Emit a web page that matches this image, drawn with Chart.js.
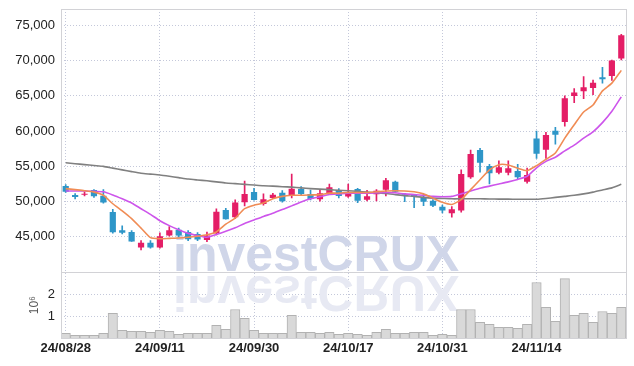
<!DOCTYPE html>
<html>
<head>
<meta charset="utf-8">
<script src="https://cdn.jsdelivr.net/npm/chart.js@4.4.1/dist/chart.umd.min.js"></script>
<style>
  html, body { margin: 0; padding: 0; background: #fff; }
  #wrap { width: 634px; height: 366px; }
</style>
</head>
<body>
<div id="wrap"><canvas id="stockChart" width="634" height="366"></canvas></div>
<script>
// trading days
var dates = [
    '24/08/28','24/08/29','24/08/30','24/09/02','24/09/03','24/09/04','24/09/05','24/09/06','24/09/09','24/09/10',
    '24/09/11','24/09/12','24/09/13','24/09/19','24/09/20','24/09/23','24/09/24','24/09/25','24/09/26','24/09/27',
    '24/09/30','24/10/02','24/10/04','24/10/07','24/10/08','24/10/10','24/10/11','24/10/14','24/10/15','24/10/16',
    '24/10/17','24/10/18','24/10/21','24/10/22','24/10/23','24/10/24','24/10/25','24/10/28','24/10/29','24/10/30',
    '24/10/31','24/11/01','24/11/04','24/11/05','24/11/06','24/11/07','24/11/08','24/11/11','24/11/12','24/11/13',
    '24/11/14','24/11/15','24/11/18','24/11/19','24/11/20','24/11/21','24/11/22','24/11/25','24/11/26','24/11/27'
];

var opens = [
    52200, 50940, 50990, 51650, 50850, 48540, 45950, 45700, 43490, 44160,
    43490, 45190, 46000, 45710, 45430, 44580, 45530, 48830, 47790, 49920,
    51370, 49670, 50520, 51270, 50810, 51800, 51090, 50340, 51190, 51660,
    50740, 51800, 50280, 51050, 51700, 52830, 51050, 50950, 50620, 50140,
    49290, 48360, 48730, 53450, 57310, 55050, 54100, 54100, 54340, 52830,
    58960, 57360, 60050, 61270, 64980, 65640, 66110, 67630, 67820, 70290
];
var highs = [
    52400, 51130, 51410, 51700, 51700, 48920, 46560, 45900, 44480, 44480,
    45570, 46460, 46240, 45900, 45620, 45670, 48970, 49060, 50240, 52930,
    51890, 51090, 51180, 51550, 53920, 52130, 51650, 51650, 52500, 51850,
    52500, 51900, 51610, 51700, 53310, 52900, 51190, 51050, 51050, 50280,
    49500, 49290, 54490, 57310, 57560, 55290, 55800, 55800, 55290, 54770,
    60000, 59820, 60520, 64980, 66020, 67720, 67230, 69050, 70060, 73700
];
var lows = [
    51300, 50380, 50800, 50600, 49800, 45530, 45440, 44350, 43170, 43400,
    43400, 45100, 45000, 44480, 44480, 44340, 45300, 47500, 47600, 49390,
    50200, 49490, 50430, 49920, 50520, 50990, 50240, 50050, 50990, 50530,
    50600, 49860, 50100, 50100, 50800, 51300, 50000, 49150, 49430, 49300,
    48400, 47790, 48500, 53300, 54160, 52500, 53920, 53780, 53170, 52600,
    56140, 56140, 58160, 60700, 64040, 64600, 65170, 66800, 67170, 70100
];
var closes = [
    51400, 50660, 51130, 50760, 49860, 45670, 45590, 44350, 44160, 43490,
    45100, 45950, 45190, 44680, 44620, 45190, 48580, 47510, 49860, 51090,
    50240, 50340, 50990, 50060, 51840, 51090, 50380, 51190, 52040, 50810,
    51300, 50140, 50760, 51560, 53030, 51410, 50810, 50710, 50000, 49430,
    48730, 48920, 53920, 56750, 55520, 54020, 54870, 54730, 53450, 53780,
    56790, 59440, 59490, 64660, 65450, 66210, 66860, 67350, 70000, 73580
];
var volumes = [
    210000, 120000, 120000, 120000, 210000, 1120000, 350000, 300000, 300000, 260000,
    350000, 300000, 170000, 210000, 210000, 210000, 580000, 400000, 1300000, 900000,
    350000, 210000, 210000, 210000, 1030000, 260000, 260000, 210000, 260000, 170000,
    210000, 170000, 120000, 260000, 400000, 210000, 210000, 260000, 260000, 120000,
    170000, 120000, 1300000, 1300000, 710000, 620000, 490000, 490000, 440000, 620000,
    2530000, 1400000, 760000, 2710000, 1030000, 1120000, 710000, 1210000, 1120000, 1400000
];

// moving averages
var maShort = [
    51850, 51700, 51550, 51350, 50900, 49700, 48700, 47600, 46250, 44900,
    44750, 44800, 44850, 44950, 45100, 45300, 45700, 46800, 47650, 49000,
    49500, 49800, 50400, 50750, 50900, 50900, 50950, 51000, 51200, 51200,
    51300, 51300, 51300, 51400, 51500, 51550, 51500, 51400, 51100, 50500,
    49900, 49600, 50300, 51700, 53100, 54500, 55240, 55190, 54730, 54390,
    55100, 56000, 56900, 59000, 60900, 62700, 63700, 65700, 66800, 68600
];
var maMid = [
    51500, 51500, 51500, 51450, 51400, 50950, 50400, 49800, 49000, 48200,
    47300, 46600, 46000, 45500, 45200, 44950, 45350, 45800, 46300, 46900,
    47400, 47900, 48350, 48900, 49400, 49950, 50400, 50700, 51000, 51100,
    51200, 51200, 51200, 51250, 51300, 51250, 51100, 51000, 50900, 50750,
    50700, 50750, 51100, 51500, 51900, 52200, 52500, 52800, 53150, 53600,
    54800, 55700, 56300, 57200, 58000, 59000, 59900, 61200, 62800, 64850
];
var maLong = [
    55500, 55380, 55250, 55120, 55000, 54750, 54500, 54250, 54020, 53900,
    53780, 53600, 53400, 53200, 53070, 52950, 52800, 52650, 52550, 52450,
    52350, 52250, 52200, 52120, 52050, 51950, 51850, 51780, 51700, 51620,
    51550, 51450, 51350, 51250, 51150, 51000, 50850, 50750, 50600, 50500,
    50450, 50400, 50400, 50400, 50400, 50380, 50350, 50350, 50340, 50330,
    50340, 50450, 50600, 50750, 50900, 51100, 51350, 51650, 51950, 52450
];

// tick values
var priceTicks = [45000, 50000, 55000, 60000, 65000, 70000, 75000];
var volumeTicks = [1000000, 2000000];

var upColor = 'rgb(228, 30, 102)';
var downColor = 'rgb(46, 150, 200)';
var gridColor = 'rgb(196, 200, 218)';

var candleColors = opens.map(function (o, i) { return closes[i] >= o ? upColor : downColor; });
var bodies = opens.map(function (o, i) { return [o, closes[i]]; });
var wicks = lows.map(function (l, i) { return [l, highs[i]]; });

Chart.defaults.font.family = "'Liberation Sans', Arial, sans-serif";

// watermark with its reflection, drawn behind the candles
var watermarkPlugin = {
    id: 'watermark',
    beforeDatasetsDraw: function (chart) {
        var ctx = chart.ctx;
        var base = chart.scales.y.bottom - 1;
        ctx.save();
        ctx.font = "bold 50px 'Liberation Sans', Arial, sans-serif";
        ctx.textBaseline = 'alphabetic';
        ctx.fillStyle = 'rgb(208, 214, 233)';
        ctx.fillText('investCRUX', 173, base);
        ctx.translate(0, 2 * base + 5);
        ctx.scale(1, -1);
        ctx.fillStyle = 'rgb(231, 233, 243)';
        ctx.fillText('investCRUX', 173, base);
        ctx.restore();
    }
};

// frame round the plot and the line between price and volume
var framePlugin = {
    id: 'frame',
    afterDraw: function (chart) {
        var ctx = chart.ctx;
        var a = chart.chartArea;
        var sep = Math.round(chart.scales.y.bottom) + 0.5;
        ctx.save();
        ctx.strokeStyle = 'rgb(210, 210, 214)';
        ctx.lineWidth = 1;
        ctx.strokeRect(Math.round(a.left) + 0.5, Math.round(a.top) + 0.5, Math.round(a.right - a.left), Math.round(a.bottom - a.top));
        ctx.beginPath();
        ctx.moveTo(a.left, sep);
        ctx.lineTo(a.right, sep);
        ctx.stroke();
        ctx.restore();
    }
};

function fixAxis(scale) {
    scale.width = 61;
    scale.paddingTop = 0;
    scale.paddingBottom = 0;
}

var ctx = document.getElementById('stockChart').getContext('2d');
var stockChart = new Chart(ctx, {
    data: {
        labels: dates,
        datasets: [
            {
                type: 'line', label: 'MA short', data: maShort, yAxisID: 'y', order: 0,
                borderColor: 'rgb(240, 140, 85)', borderWidth: 1.6, pointRadius: 0, tension: 0.2
            },
            {
                type: 'line', label: 'MA mid', data: maMid, yAxisID: 'y', order: 0,
                borderColor: 'rgb(205, 85, 235)', borderWidth: 1.6, pointRadius: 0, tension: 0.2
            },
            {
                type: 'line', label: 'MA long', data: maLong, yAxisID: 'y', order: 0,
                borderColor: 'rgb(128, 128, 128)', borderWidth: 1.6, pointRadius: 0, tension: 0.2
            },
            {
                type: 'bar', label: 'wick', data: wicks, yAxisID: 'y', order: 1,
                backgroundColor: candleColors, barThickness: 1, grouped: false
            },
            {
                type: 'bar', label: 'body', data: bodies, yAxisID: 'y', order: 1,
                backgroundColor: candleColors, borderWidth: 0,
                barPercentage: 0.66, categoryPercentage: 1, grouped: false
            },
            {
                type: 'bar', label: 'volume', data: volumes, yAxisID: 'yv', order: 2,
                backgroundColor: 'rgb(217, 217, 217)', borderColor: 'rgb(178, 178, 178)', borderWidth: 1,
                barPercentage: 1, categoryPercentage: 1, grouped: false
            }
        ]
    },
    options: {
        responsive: false,
        animation: false,
        layout: { padding: { top: 9, right: 8, left: 0, bottom: 0 } },
        plugins: {
            legend: { display: false },
            tooltip: { enabled: false }
        },
        scales: {
            x: {
                offset: true,
                grid: { offset: false, color: gridColor, drawTicks: false },
                border: { display: false, dash: [1, 2] },
                ticks: {
                    autoSkip: false, maxRotation: 0, padding: 3,
                    color: '#222', font: { size: 13, weight: 'bold' },
                    callback: function (v, i) { return i % 10 === 0 ? dates[i] : null; }
                },
                afterFit: function (scale) { scale.height = 28; }
            },
            yv: {
                position: 'left', stack: 'panes', stackWeight: 1,
                min: 0, max: 3000000,
                grid: { color: gridColor, drawTicks: false },
                border: { display: false, dash: [1, 2] },
                title: { display: true, text: '10\u2076', color: '#555', font: { size: 12 }, padding: { top: 27, bottom: 0 } },
                ticks: {
                    autoSkip: false, padding: 6, color: '#222', font: { size: 13 },
                    callback: function (v) { return String(v / 1000000); }
                },
                afterBuildTicks: function (scale) {
                    scale.ticks = volumeTicks.map(function (v) { return { value: v }; });
                },
                afterFit: fixAxis
            },
            y: {
                position: 'left', stack: 'panes', stackWeight: 4,
                min: 40000, max: 77300,
                grid: { color: gridColor, drawTicks: false },
                border: { display: false, dash: [1, 2] },
                ticks: {
                    autoSkip: false, padding: 6, color: '#222', font: { size: 13 },
                    callback: function (v) { return Number(v).toLocaleString('en-US'); }
                },
                afterBuildTicks: function (scale) {
                    scale.ticks = priceTicks.map(function (v) { return { value: v }; });
                },
                afterFit: fixAxis
            }
        }
    },
    plugins: [watermarkPlugin, framePlugin]
});
</script>
</body>
</html>
